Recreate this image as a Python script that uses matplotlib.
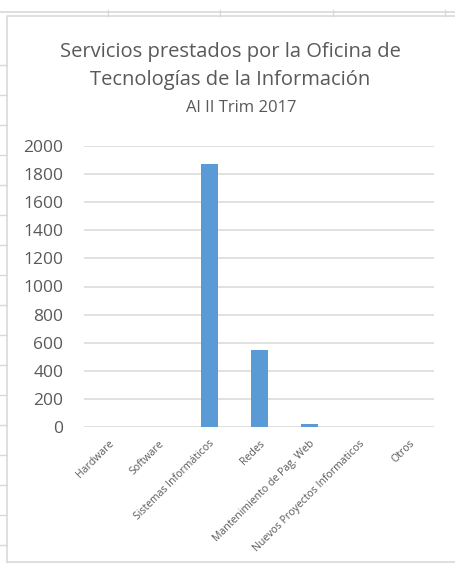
import matplotlib
matplotlib.use("Agg")
import matplotlib.pyplot as plt
from matplotlib.lines import Line2D

categories = ["Hardware", "Software", "Sistemas Informáticos", "Redes",
              "Mantenimiento de Pag. Web", "Nuevos Proyectos Informaticos", "Otros"]
values = [0, 0, 1870, 550, 22, 0, 0]
yticks = [0, 200, 400, 600, 800, 1000, 1200, 1400, 1600, 1800, 2000]
title_lines = ["Servicios prestados por la Oficina de",
               "Tecnologías de la Información",
               "Al II Trim 2017"]

W, H = 456, 566
plt.rcParams['font.family'] = ['Open Sans', 'DejaVu Sans']
fig = plt.figure(figsize=(W / 100, H / 100), dpi=100)
fig.patch.set_facecolor('white')

grid_c = '#d9d9d9'
# spreadsheet background lines
fig.add_artist(Line2D([0, 1], [1 - 12 / H] * 2, transform=fig.transFigure, color=grid_c, lw=1.2))
for x in [108, 220, 333, 445]:
    fig.add_artist(Line2D([x / W] * 2, [1 - 10 / H, 1 - 16 / H], transform=fig.transFigure, color=grid_c, lw=1.0))
for y in range(65, 550, 30):
    fig.add_artist(Line2D([0, 7 / W], [1 - y / H] * 2, transform=fig.transFigure, color=grid_c, lw=1.0))
# chart frame
fig.add_artist(Line2D([7 / W, 7 / W, 1], [1 - 562 / H, 1 - 16 / H, 1 - 16 / H],
                      transform=fig.transFigure, color=grid_c, lw=1.2))
fig.add_artist(Line2D([7 / W, 1], [1 - 562 / H] * 2, transform=fig.transFigure, color=grid_c, lw=1.2))

ax = fig.add_axes([84 / W, 1 - 427 / H, 350 / W, 281 / H])
x = list(range(len(categories)))
ax.bar(x, values, width=0.34, color='#5B9BD5', zorder=3)
ax.set_xlim(-0.5, len(categories) - 0.5)
ax.set_ylim(0, 2000)
ax.set_yticks(yticks)
ax.set_yticklabels([str(v) for v in yticks], fontsize=12.5, color='#595959')
ax.yaxis.grid(True, color=grid_c, lw=1.1, zorder=0)
ax.set_axisbelow(True)
for s in ax.spines.values():
    s.set_visible(False)
ax.tick_params(axis='y', length=0, pad=15)
ax.tick_params(axis='x', length=0, pad=8)
ax.set_xticks(x)
ax.set_xticklabels(categories, rotation=45, ha='right', va='top',
                   rotation_mode='anchor', fontsize=7.6, color='#595959')
ax.set_facecolor('none')

tc = '#595959'
fig.text(230 / W, 1 - 57 / H, title_lines[0], ha='center', va='baseline', fontsize=14.5, color=tc)
fig.text(230 / W, 1 - 85 / H, title_lines[1], ha='center', va='baseline', fontsize=14.5, color=tc)
fig.text(241 / W, 1 - 112 / H, title_lines[2], ha='center', va='baseline', fontsize=12, color=tc)

fig.savefig('out.png', dpi=100, facecolor='white')
